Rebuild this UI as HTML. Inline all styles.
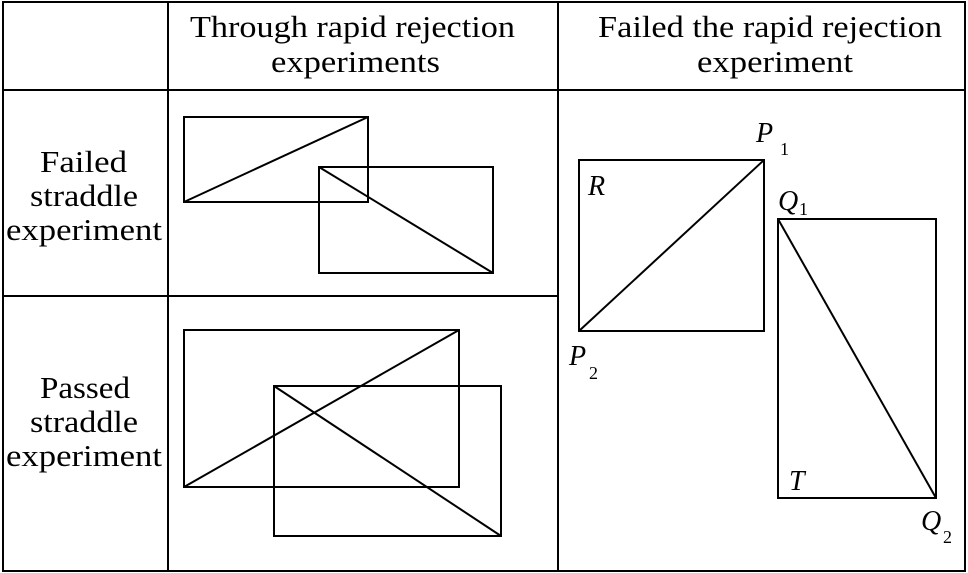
<!DOCTYPE html>
<html><head><meta charset="utf-8"><style>
body{margin:0;background:#fff}
svg{display:block}
text{font-family:"Liberation Serif",serif;fill:#000}
</style></head><body>
<svg width="968" height="573" viewBox="0 0 968 573" xmlns="http://www.w3.org/2000/svg">
<g stroke="#000" stroke-width="2" fill="none">
<rect x="3" y="2" width="962" height="569"/>
<line x1="168" y1="2" x2="168" y2="571"/>
<line x1="558" y1="2" x2="558" y2="571"/>
<line x1="3" y1="90" x2="965" y2="90"/>
<line x1="3" y1="296" x2="558" y2="296"/>
<rect x="184" y="117" width="184" height="85"/>
<line x1="184" y1="202" x2="368" y2="117"/>
<rect x="319" y="167" width="174" height="106"/>
<line x1="319" y1="167" x2="493" y2="273"/>
<rect x="184" y="330" width="275" height="157"/>
<line x1="184" y1="487" x2="459" y2="330"/>
<rect x="274" y="386" width="227" height="150"/>
<line x1="274" y1="386" x2="501" y2="536"/>
<rect x="579" y="160" width="185" height="171"/>
<line x1="579" y1="331" x2="764" y2="160"/>
<rect x="778" y="219" width="158" height="279"/>
<line x1="778" y1="219" x2="936" y2="498"/>
</g>
<g font-size="31" lengthAdjust="spacingAndGlyphs">
<text x="190" y="37" textLength="325" lengthAdjust="spacingAndGlyphs">Through rapid rejection</text>
<text x="271" y="72" textLength="169" lengthAdjust="spacingAndGlyphs">experiments</text>
<text x="598" y="37" textLength="344" lengthAdjust="spacingAndGlyphs">Failed the rapid rejection</text>
<text x="697" y="72" textLength="156" lengthAdjust="spacingAndGlyphs">experiment</text>
<text x="40" y="172" textLength="87" lengthAdjust="spacingAndGlyphs">Failed</text>
<text x="30" y="206" textLength="108" lengthAdjust="spacingAndGlyphs">straddle</text>
<text x="6" y="240" textLength="156" lengthAdjust="spacingAndGlyphs">experiment</text>
<text x="40" y="398" textLength="90" lengthAdjust="spacingAndGlyphs">Passed</text>
<text x="30" y="432" textLength="108" lengthAdjust="spacingAndGlyphs">straddle</text>
<text x="6" y="466" textLength="156" lengthAdjust="spacingAndGlyphs">experiment</text>
</g>
<g font-size="28" font-style="italic">
<text x="756" y="142">P</text><text x="780" y="155" font-size="18" font-style="normal">1</text>
<text x="588" y="195">R</text>
<text x="778" y="210">Q</text><text x="799" y="215" font-size="18" font-style="normal">1</text>
<text x="569" y="365">P</text><text x="589" y="379" font-size="18" font-style="normal">2</text>
<text x="789" y="490">T</text>
<text x="921" y="530">Q</text><text x="943" y="543" font-size="18" font-style="normal">2</text>
</g>
</svg>
</body></html>
